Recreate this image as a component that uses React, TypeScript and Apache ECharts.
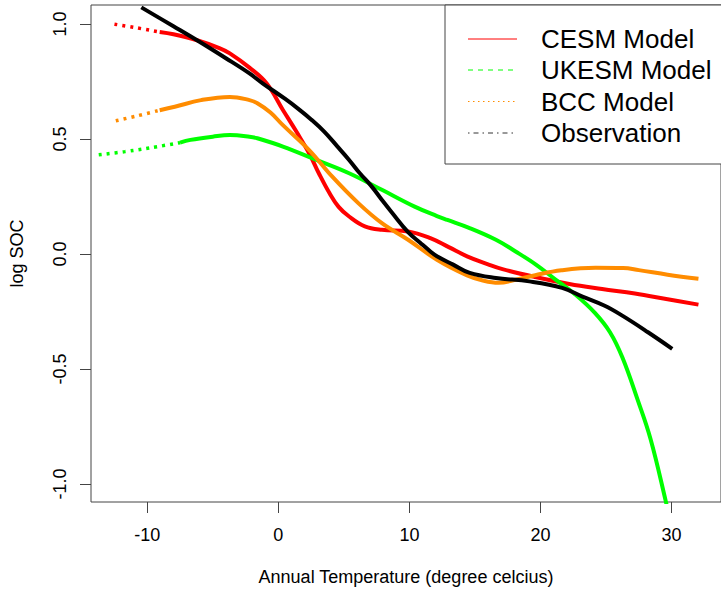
import React, { useEffect, useRef } from "react";
import * as echarts from "echarts";

// ---- Data ----
const xTicks = [-10, 0, 10, 20, 30];
const yTicks = [-1.0, -0.5, 0.0, 0.5, 1.0];

const seriesNames = ["CESM Model", "UKESM Model", "BCC Model", "Observation"];

const cesmX = [-12.5, -11, -9.05, -8, -6.2, -4.5, -3.7, -2.2, -0.9, 0.35, 1.4, 2.35, 3.1, 3.9, 4.6, 5.4, 6.6, 7.9, 9.9, 11.6, 13, 14.4, 16, 17.1, 19.6, 22.2, 24.7, 27.2, 29.7, 32.05];
const cesmY = [0.999, 0.985, 0.965, 0.955, 0.929, 0.895, 0.872, 0.81, 0.742, 0.626, 0.53, 0.438, 0.35, 0.265, 0.205, 0.163, 0.12, 0.105, 0.098, 0.069, 0.03, -0.01, -0.045, -0.066, -0.1, -0.13, -0.152, -0.172, -0.197, -0.22];

const ukesmX = [-13.7, -11.7, -9.2, -7.5, -6.7, -5, -3.7, -2.2, -1.6, 0.35, 2.9, 5.4, 7.9, 10.4, 12.1, 12.9, 14.5, 16.6, 18.1, 19.65, 21.15, 22.65, 24.15, 25.3, 26.25, 27.4, 28.4, 29.55, 29.8];
const ukesmY = [0.431, 0.445, 0.467, 0.484, 0.496, 0.51, 0.517, 0.51, 0.503, 0.467, 0.409, 0.351, 0.279, 0.206, 0.165, 0.148, 0.115, 0.062, 0.011, -0.046, -0.111, -0.176, -0.256, -0.34, -0.45, -0.632, -0.805, -1.073, -1.14];

const bccX = [-12.4, -10.8, -9.05, -7.9, -5.9, -3.7, -2.2, -1.6, -0.6, 0.35, 2.35, 4.1, 6.1, 7.9, 9.9, 12.1, 14.4, 15.6, 16.8, 18.1, 19.6, 21.6, 24.2, 26.3, 27.5, 29.7, 32.05];
const bccY = [0.579, 0.6, 0.625, 0.64, 0.669, 0.683, 0.669, 0.655, 0.615, 0.56, 0.452, 0.337, 0.221, 0.134, 0.062, -0.025, -0.093, -0.115, -0.125, -0.112, -0.092, -0.071, -0.06, -0.061, -0.07, -0.09, -0.108];

const obsX = [-10.45, -8, -6.2, -4, -2.2, -1.2, 0.5, 1.5, 2.5, 3.5, 4.5, 5.4, 6.2, 7.1, 8, 8.6, 9.9, 10.8, 11.6, 12.1, 13.3, 14.6, 16.6, 19.15, 21.65, 23.2, 24.9, 26.3, 28.2, 30.05];
const obsY = [1.072, 0.99, 0.929, 0.851, 0.785, 0.742, 0.675, 0.632, 0.585, 0.532, 0.468, 0.409, 0.352, 0.295, 0.228, 0.185, 0.095, 0.05, 0.011, -0.01, -0.045, -0.082, -0.104, -0.119, -0.147, -0.185, -0.225, -0.27, -0.34, -0.412];

// where the sparse (dotted-looking) left part of each curve ends
const sparseEnd = [-9.05, -7.5, -9.05, -99];

const colors = ["#FF0000", "#00FF00", "#FF8C00", "#000000"];
const legendDash: (number[] | null)[] = [null, [5, 5], [1.5, 3.5], [1.5, 4, 5, 4]];

const FONT = '"Liberation Sans", Arial, Helvetica, sans-serif';

function pairs(xs: number[], ys: number[]) {
  return xs.map((x, i) => [x, ys[i]]);
}

export default function App() {
  const ref = useRef<HTMLDivElement>(null);

  useEffect(() => {
    if (!ref.current) return;
    const chart = echarts.init(ref.current, null, { renderer: "svg" });

    const all = [
      pairs(cesmX, cesmY),
      pairs(ukesmX, ukesmY),
      pairs(bccX, bccY),
      pairs(obsX, obsY),
    ];

    const series: any[] = [];
    all.forEach((d, i) => {
      const cut = sparseEnd[i];
      const sparse = d.filter((p) => p[0] <= cut);
      const dense = d.filter((p) => p[0] >= cut);
      if (sparse.length > 1) {
        series.push({
          type: "line",
          name: seriesNames[i] + " (sparse)",
          data: sparse,
          symbol: "none",
          smooth: 0.4,
          clip: true,
          lineStyle: { color: colors[i], width: 3.5, type: [3, 5] },
          z: 2 + i,
        });
      }
      series.push({
        type: "line",
        name: seriesNames[i],
        data: dense,
        symbol: "none",
        smooth: 0.4,
        clip: true,
        lineStyle: { color: colors[i], width: 4, type: "solid" },
        z: 2 + i,
      });
    });

    const legendRowY = [39, 70, 101.5, 133];
    const graphics: any[] = [
      {
        type: "rect",
        z: 10,
        shape: { x: 445, y: 5, width: 320, height: 159 },
        style: { fill: "#ffffff", stroke: "#444", lineWidth: 1 },
      },
    ];
    seriesNames.forEach((n, i) => {
      graphics.push({
        type: "line",
        z: 11,
        shape: { x1: 468, y1: legendRowY[i], x2: 517, y2: legendRowY[i] },
        style: {
          stroke: colors[i] === "#000000" ? "#333" : colors[i],
          lineWidth: 1,
          lineDash: legendDash[i] || undefined,
        },
      });
      graphics.push({
        type: "text",
        z: 11,
        x: 541,
        y: legendRowY[i],
        style: {
          text: n,
          font: `26px ${FONT}`,
          fill: "#000",
          verticalAlign: "middle",
          textVerticalAlign: "middle",
          align: "left",
        },
      });
    });

    chart.setOption({
      animation: false,
      backgroundColor: "#ffffff",
      textStyle: { fontFamily: FONT },
      grid: {
        left: 89,
        top: 5,
        width: 638,
        height: 498,
        show: true,
        borderColor: "#444",
        borderWidth: 1,
        backgroundColor: "transparent",
      },
      xAxis: {
        type: "value",
        min: -14.29,
        max: 33.77,
        name: "Annual Temperature (degree celcius)",
        nameLocation: "middle",
        nameGap: 66,
        nameTextStyle: { fontSize: 18, color: "#000", fontFamily: FONT },
        axisLine: { show: false, onZero: false },
        splitLine: { show: false },
        axisTick: {
          show: true,
          length: 11,
          inside: false,
          customValues: xTicks,
          lineStyle: { color: "#444", width: 1 },
        },
        axisLabel: {
          customValues: xTicks,
          margin: 24,
          fontSize: 18,
          color: "#000",
          fontFamily: FONT,
          formatter: (v: number) => String(v),
        },
      },
      yAxis: {
        type: "value",
        min: -1.078,
        max: 1.0824,
        name: "log SOC",
        nameLocation: "middle",
        nameGap: 65,
        nameRotate: 90,
        nameTextStyle: { fontSize: 18, color: "#000", fontFamily: FONT },
        axisLine: { show: false, onZero: false },
        splitLine: { show: false },
        axisTick: {
          show: true,
          length: 11,
          inside: false,
          customValues: yTicks,
          lineStyle: { color: "#444", width: 1 },
        },
        axisLabel: {
          customValues: yTicks,
          rotate: 90,
          margin: 22,
          fontSize: 18,
          color: "#000",
          fontFamily: FONT,
          formatter: (v: number) => v.toFixed(1),
        },
      },
      series,
      graphic: graphics,
    });

    return () => {
      chart.dispose();
    };
  }, []);

  return (
    <div
      ref={ref}
      style={{ position: "absolute", left: 0, top: 0, width: 721, height: 591 }}
    />
  );
}
